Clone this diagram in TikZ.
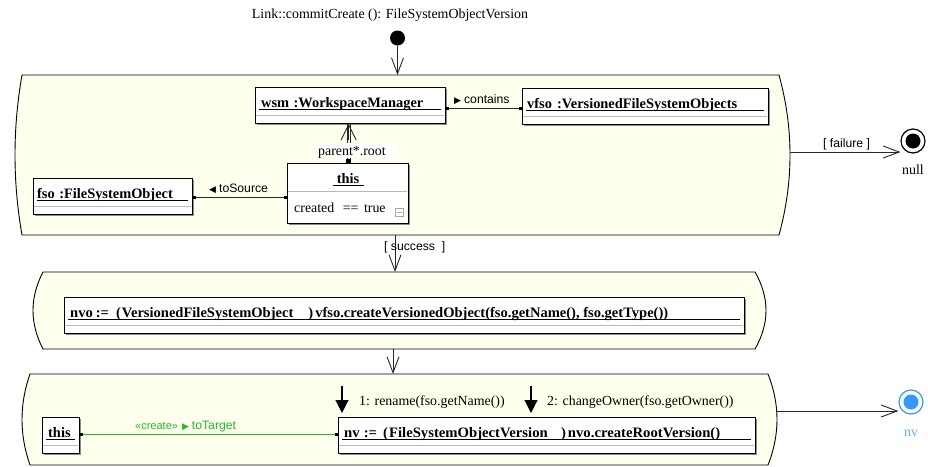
\documentclass[tikz,border=0pt]{standalone}
\usepackage{fontspec}
\usepackage{graphicx}
\setmainfont{Liberation Serif}
\setsansfont{Liberation Sans}
\newfontfamily\symfont{DejaVu Sans}
\usetikzlibrary{arrows.meta,calc}

\definecolor{panelfill}{RGB}{255,255,238}
\definecolor{linkgreen}{RGB}{34,187,34}
\definecolor{finalblue}{RGB}{51,153,255}
\definecolor{nvblue}{RGB}{102,170,255}
\definecolor{sepgray}{RGB}{185,185,185}
\definecolor{shadowgray}{RGB}{140,140,140}

\tikzset{
  panel/.style={draw=black, fill=panelfill, line width=0.9pt},
  objbox/.style={draw=black, fill=white, line width=0.9pt, inner sep=0pt, rectangle},
  serif/.style={font=\fontsize{13.9}{16}\selectfont, inner sep=0pt},
  objtitle/.style={font=\bfseries\fontsize{14.4}{16}\selectfont, inner sep=0pt},
  sanslab/.style={font=\sffamily\fontsize{12.2}{14}\selectfont, inner sep=0pt},
  sepline/.style={draw=sepgray, line width=1pt},
  flow/.style={draw=black!85, line width=0.9pt, -{Straight Barb[length=16pt,width=12pt]}},
  assoc/.style={draw=black!85, line width=0.9pt, {Square[length=3pt,width=3pt,color=black,fill=black]}-{Square[length=3pt,width=3pt,color=black,fill=black]}},
  msg/.style={draw=black, line width=1.1pt, -{Triangle[length=13pt,width=13pt]}},
}

\newcommand\tri[1]{{\symfont\fontsize{9}{9}\selectfont #1}}

% activity panel: name, left bulge, top, right bulge, bottom, left sag, right sag
\newcommand\umlpanel[7]{%
  \path[panel] ({#2+#6},#3) -- ({#4-#7},#3)
    .. controls ({#4-#7+4/3*#7},{#3+(#5-#3)/3}) and ({#4-#7+4/3*#7},{#3+2*(#5-#3)/3}) .. ({#4-#7},#5)
    -- ({#2+#6},#5)
    .. controls ({#2+#6-4/3*#6},{#3+2*(#5-#3)/3}) and ({#2+#6-4/3*#6},{#3+(#5-#3)/3}) .. cycle;
  \node[inner sep=0pt, minimum width={#4-#2}, minimum height={#5-#3}, anchor=north west] (#1) at (#2,#3) {};
}

% object box: name, left, top, right, bottom, text offset, title
\newcommand\umlobj[7]{%
  \fill[shadowgray] ({#2+1.5},{#3+1.5}) rectangle ({#4+1.5},{#5+1.5});
  \node[objbox, minimum width={#4-#2}, minimum height={#5-#3}, anchor=north west] (#1) at (#2,#3) {};
  \node[objtitle, anchor=base west] (#1-title) at ({#2+#6},{#3+20}) {#7};
  \draw[line width=0.9pt] ({#2+4},{#3+22.5}) -- ({#4-4},{#3+22.5});
  \draw[sepline] ({#2+1},{#3+28}) -- ({#4-1},{#3+28});
}

\begin{document}
\begin{tikzpicture}[x=1pt,y=-1pt]
\useasboundingbox (0,0) rectangle (928,466);

% method signature and initial state
\node[serif, anchor=base] (title) at (390,18.5) {Link::commitCreate (): FileSystemObjectVersion};
\node[circle, fill=black, minimum size=15pt, inner sep=0pt] (start) at (397.5,38) {};

% activities
\umlpanel{p1}{15}{75}{790}{235}{7}{11}
\umlpanel{p2}{33}{272}{766}{349}{10}{11}
\umlpanel{p3}{22}{374}{777}{465}{8}{9}

% ---- first activity: story pattern ----
\umlobj{wsm}{255}{87}{445}{123}{6}{wsm\hspace{4.5pt}:WorkspaceManager}
\umlobj{vfso}{522}{88}{768}{124}{5}{vfso\hspace{5pt}:VersionedFileSystemObjects}
\umlobj{fso}{33}{178}{192}{214}{4}{fso\hspace{4.5pt}:FileSystemObject}

% this object with its constraint
\fill[shadowgray] (288.5,164.5) rectangle (409.5,224.5);
\node[objbox, minimum width=121pt, minimum height=60pt, anchor=north west] (ths) at (287,163) {};
\node[objtitle, anchor=base] (ths-title) at (348,183) {this};
\draw[line width=0.9pt] (333,185.5) -- (364,185.5);
\draw[sepline] (288,191) -- (407,191);
\node[serif, anchor=base west] (ths-attr) at (294,212) {created\hspace{8.5pt}==\hspace{5.5pt}true};
\node[draw=gray!70, line width=0.8pt, minimum width=8.5pt, minimum height=8pt, inner sep=0pt] (ths-icon) at (399.5,212) {};
\draw[gray!70, line width=0.8pt] ([xshift=2pt]ths-icon.west) -- ([xshift=-2pt]ths-icon.east);

% links
\draw[assoc] (wsm.east |- 0,108) -- (vfso.west |- 0,108);
\node[sanslab, anchor=base west] (contains) at (454,103) {\tri{▶}\hspace{3pt}contains};
\draw[assoc] (fso.east |- 0,197) -- (ths.west |- 0,197);
\node[sanslab, anchor=base west] (tosource) at (209,192) {\tri{◀}\hspace{3pt}toSource};

% path link to the root
\draw[draw=black!85, line width=0.9pt] (347,0 |- ths.north) -- (347,0 |- wsm.south);
\draw[draw=black!85, line width=0.9pt] (350.3,0 |- ths.north) -- (350.3,0 |- wsm.south);
\draw[draw=black!85, line width=0.9pt, -{Straight Barb[length=15pt,width=15pt]}] (348.6,140) -- (348.6,0 |- wsm.south);
\node[fill=white, minimum width=78pt, minimum height=15pt, inner sep=0pt, anchor=north west] (prbg) at (318,143) {};
\node[serif, anchor=base west] (prlab) at (318,155) {parent*.root};
\node[fill=black, minimum width=5pt, minimum height=3.5pt, inner sep=0pt, anchor=south] (prend) at (348.6,0 |- ths.north) {};

% ---- second activity ----
\umlobj{nvo}{64}{297}{744}{333}{6}{\resizebox{598pt}{\height}{nvo\hspace{3pt}:=\hspace{7pt}(\hspace{1pt}VersionedFileSystemObject\hspace{15pt})\hspace{2pt}vfso.createVersionedObject(fso.getName(), fso.getType())}}

% ---- third activity ----
\umlobj{this3}{42}{417}{79}{453}{6}{this}
\umlobj{nv}{338}{417}{755}{453}{6}{\resizebox{376pt}{\height}{nv\hspace{4pt}:=\hspace{6pt}(\hspace{1pt}FileSystemObjectVersion\hspace{13pt})\hspace{2pt}nvo.createRootVersion()}}

\draw[assoc, draw=linkgreen] (this3.east |- 0,434) -- (nv.west |- 0,434);
\node[sanslab, anchor=base west, text=linkgreen] (totarget) at (135,429) {{\fontsize{11}{13}\selectfont «create»}\hspace{4pt}\tri{▶}\hspace{3pt}toTarget};

\coordinate (m1) at (342,386);
\coordinate (m2) at (531,386);
\draw[msg, shorten >=4pt] (m1) -- (m1 |- nv.north);
\draw[msg, shorten >=4pt] (m2) -- (m2 |- nv.north);
\node[serif, anchor=base west] (m1lab) at (359,405) {1: rename(fso.getName())};
\node[serif, anchor=base west] (m2lab) at (547,405) {2: changeOwner(fso.getOwner())};

% final states
\node[circle, draw=black, line width=1.2pt, fill=white, minimum size=24pt, inner sep=0pt] (fin) at (913,141) {};
\node[circle, fill=black, minimum size=15pt, inner sep=0pt] (fin-dot) at (fin.center) {};
\node[serif, anchor=base] (nulllab) at (913,174) {null};

\node[circle, draw=finalblue, line width=1.2pt, fill=white, minimum size=24pt, inner sep=0pt] (fnv) at (911,402) {};
\node[circle, fill=finalblue, minimum size=15pt, inner sep=0pt] (fnv-dot) at (fnv.center) {};
\node[serif, anchor=base, text=nvblue] (nvlab) at (911,436) {nv};

% control flow
\draw[flow] (start) -- (397.5,0 |- p1.north);
\draw[flow] (395,0 |- p1.south) -- (395,0 |- p2.north);
\node[sanslab, anchor=base west] (succ) at (384,250) {[\ success\ \ ]};
\draw[flow] (393,0 |- p2.south) -- (393,0 |- p3.north);
\draw[flow] (p1.east |- 0,152) -- (fin.west |- 0,152);
\node[sanslab, anchor=base west] (fail) at (823,147) {[\ failure\ ]};
\draw[flow] (p3.east |- 0,411) -- (fnv.west |- 0,411);

\end{tikzpicture}
\end{document}
